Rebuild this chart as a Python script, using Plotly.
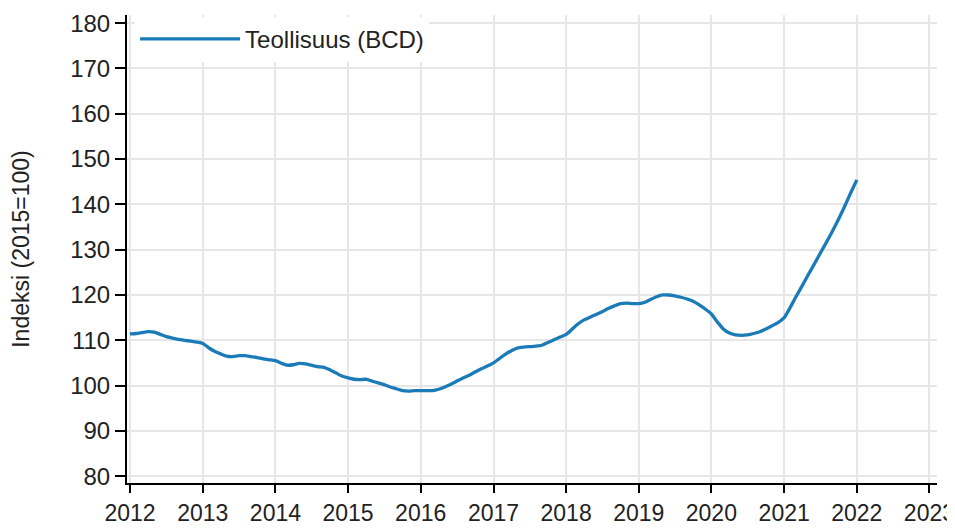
import plotly.graph_objects as go

years = list(range(2012, 2022))
series_name = "Teollisuus (BCD)"
y_title = "Indeksi (2015=100)"

v2012 = [111.4, 111.5, 111.7, 111.9, 111.8, 111.3, 110.8, 110.5, 110.2, 110.0, 109.8, 109.6]
v2013 = [109.3, 108.3, 107.6, 107.0, 106.5, 106.4, 106.6, 106.6, 106.4, 106.2, 105.9, 105.7]
v2014 = [105.5, 104.9, 104.5, 104.6, 104.9, 104.8, 104.5, 104.2, 104.0, 103.5, 102.8, 102.1]
v2015 = [101.7, 101.4, 101.3, 101.4, 101.0, 100.6, 100.2, 99.7, 99.3, 98.9, 98.8, 98.9]
v2016 = [98.9, 98.9, 98.9, 99.2, 99.7, 100.3, 101.0, 101.7, 102.3, 103.0, 103.7, 104.3]
v2017 = [105.0, 106.0, 106.9, 107.7, 108.3, 108.5, 108.6, 108.7, 108.9, 109.5, 110.1, 110.7]
v2018 = [111.3, 112.5, 113.6, 114.5, 115.1, 115.7, 116.3, 117.0, 117.6, 118.1, 118.2, 118.1]
v2019 = [118.1, 118.4, 119.0, 119.6, 120.0, 120.0, 119.8, 119.5, 119.1, 118.6, 117.8, 116.9]
v2020 = [115.8, 114.0, 112.5, 111.6, 111.2, 111.1, 111.2, 111.5, 111.9, 112.5, 113.2, 113.9]
v2021 = [115.0, 117.3, 119.6, 122.0, 124.4, 126.8, 129.2, 131.6, 134.1, 136.7, 139.6, 142.5]
v2022 = [145.4]

monthly = [v2012, v2013, v2014, v2015, v2016, v2017, v2018, v2019, v2020, v2021]
dates = []
values = []
for yr, vals in zip(years, monthly):
    for m, v in enumerate(vals, start=1):
        dates.append(f"{yr}-{m:02d}-01")
        values.append(v)
for m, v in enumerate(v2022, start=1):
    dates.append(f"2022-{m:02d}-01")
    values.append(v)

FONT = "Liberation Sans, Arial, sans-serif"
fig = go.Figure()
fig.add_trace(go.Scatter(x=dates, y=values, mode="lines", name=series_name,
                         line=dict(color="#1b7bb8", width=3.3, shape="spline", smoothing=0.6)))

fig.update_layout(
    width=947, height=523,
    margin=dict(l=119, r=18, t=7, b=48),
    paper_bgcolor="white", plot_bgcolor="white",
    font=dict(family=FONT, size=24, color="#222222"),
    showlegend=True,
    legend=dict(x=0.01, y=0.996, xanchor="left", yanchor="top", bgcolor="white",
                font=dict(size=24, color="#222222"), itemwidth=100),
    xaxis=dict(type="date", range=["2011-12-17", "2023-02-08"],
               tick0="2012-01-01", dtick="M12", tickformat="%Y",
               tickfont=dict(size=23),
               showgrid=True, gridcolor="#e6e6e6", gridwidth=2,
               showline=True, linecolor="black", linewidth=2,
               ticks="outside", ticklen=8, tickwidth=2, tickcolor="black",
               zeroline=False, automargin=False, ticklabeloverflow="allow"),
    yaxis=dict(range=[78.5, 181.8], dtick=10, tick0=80,
               showgrid=True, gridcolor="#e6e6e6", gridwidth=2,
               showline=True, linecolor="black", linewidth=2,
               ticks="outside", ticklen=10, tickwidth=2, tickcolor="black",
               zeroline=False, automargin=False, ticklabeloverflow="allow",
               title=dict(text=y_title, font=dict(size=23), standoff=35)),
)

fig.write_html("out.html", post_script="document.documentElement.style.overflow='hidden';")
